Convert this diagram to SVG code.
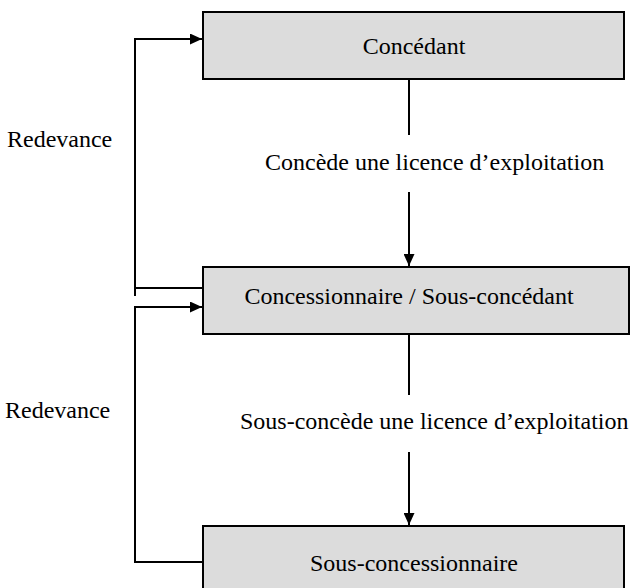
<svg xmlns="http://www.w3.org/2000/svg" width="635" height="588" viewBox="0 0 635 588">
<style>
.box{fill:#dcdcdc;stroke:#000;stroke-width:2}
.t{font-family:"Liberation Serif","Times New Roman",serif;font-size:24px;fill:#000}
.c{stroke:#000;stroke-width:2;fill:none}
</style>
<defs>
<marker id="ah" markerWidth="12" markerHeight="11" refX="12" refY="5.5" orient="auto" markerUnits="userSpaceOnUse">
<path d="M0,0 L12,5.5 L0,11 Z" fill="#000"/>
</marker>
</defs>
<g id="concedant">
<rect class="box" x="203" y="12" width="421" height="67"/>
<text class="t" x="414" y="54" text-anchor="middle">Concédant</text>
</g>
<g id="concessionnaire">
<rect class="box" x="203" y="267" width="426" height="67"/>
<text class="t" x="409" y="304" text-anchor="middle">Concessionnaire / Sous-concédant</text>
</g>
<g id="sous-concessionnaire">
<rect class="box" x="203" y="526" width="421" height="67"/>
<text class="t" x="414" y="571" text-anchor="middle">Sous-concessionnaire</text>
</g>
<g id="connectors">
<line class="c" x1="409" y1="79" x2="409" y2="135"/>
<line class="c" x1="409" y1="192" x2="409" y2="266" marker-end="url(#ah)"/>
<line class="c" x1="409" y1="334" x2="409" y2="395"/>
<line class="c" x1="409" y1="452" x2="409" y2="525" marker-end="url(#ah)"/>
<polyline class="c" points="135,296 135,39 202,39" marker-end="url(#ah)"/>
<line class="c" x1="135" y1="288" x2="203" y2="288"/>
<polyline class="c" points="203,562 135,562 135,307 202,307" marker-end="url(#ah)"/>
<text class="t" x="7" y="147">Redevance</text>
<text class="t" x="265" y="170">Concède une licence d’exploitation</text>
<text class="t" x="5" y="418">Redevance</text>
<text class="t" x="240" y="429">Sous-concède une licence d’exploitation</text>
</g>
</svg>
